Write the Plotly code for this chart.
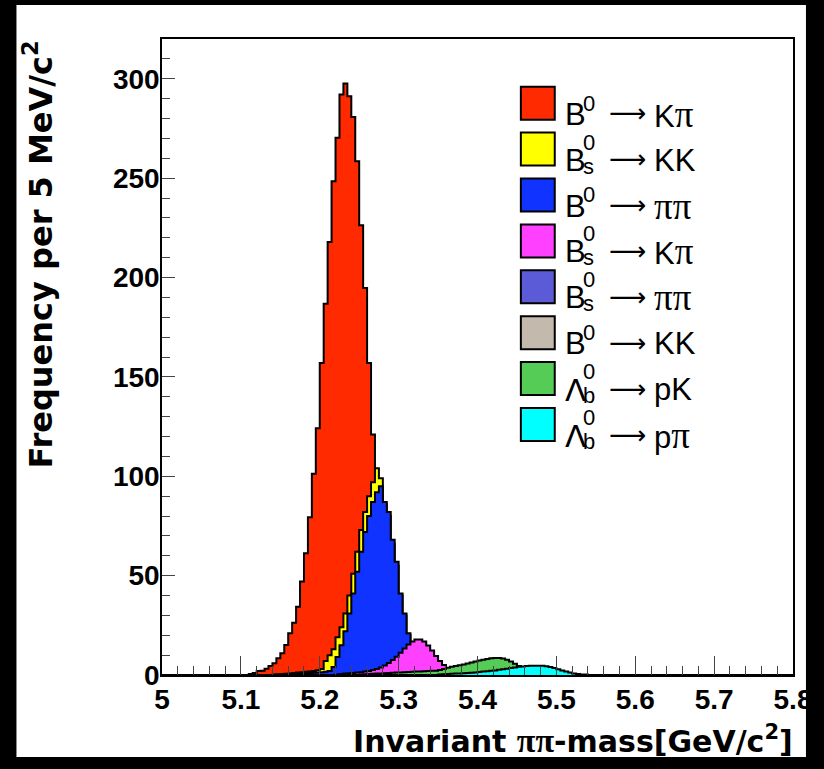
import numpy as np
import plotly.graph_objects as go

BIN_WIDTH = 0.005
X_MIN, X_MAX = 5.0, 5.8
Y_MAX = 320

# ---- histogram data (counts per 5 MeV bin) ----
kpi_start = 5.110   # B0 -> K pi
kpi_counts = [0.5, 1.0, 2.0, 2.2, 3.2, 4.5, 5.9, 8.4, 10.9, 15.1, 21.0, 26.3, 34.4, 47.0,
              61.3, 79.4, 101.2, 124.2, 157.0, 186.8, 217.9, 248.4, 270.3, 292.1, 297.6,
              291.2, 280.7, 258.5, 226.3, 194.7, 157.0, 121.0, 88, 60, 38, 23, 14, 8, 5,
              3, 2, 1]

bskk_start = 5.140  # Bs -> K K
bskk_counts = [0.3, 0.4, 0.5, 0.6, 0.8, 1.0, 1.2, 1.4, 1.6, 1.8, 2.0, 2.4, 3, 7, 10, 13,
               19, 24, 31, 40, 51, 62, 73, 82, 90, 97, 104, 99, 86, 80, 66, 55, 40, 30,
               20, 12, 7, 4, 2, 1]

bpipi_start = 5.150  # B0 -> pi pi
bpipi_counts = [0.3, 0.4, 0.5, 0.6, 0.7, 0.8, 0.9, 1.0, 1.1, 1.2, 1.4, 1.6, 2, 4, 9, 15,
                22, 31, 41, 52, 62, 72, 80, 87, 92, 95, 87, 82, 68, 57, 41, 31, 21, 14,
                9, 5, 3, 2, 1]

bskpi_start = 5.220  # Bs -> K pi
bskpi_counts = [0.3, 0.5, 0.7, 0.9, 1.0, 1.2, 1.4, 1.7, 2.0, 2.5, 3.0, 3.8, 4.8, 6.0, 7.5,
                9.2, 11.2, 13.3, 15.3, 16.8, 17.8, 17.9, 16.8, 14.8, 12.3, 9.6, 7.1, 5.0,
                3.3, 2.1, 1.3, 0.8, 0.5, 0.3]

bspipi_start = 5.300  # Bs -> pi pi
bspipi_counts = [0.2, 0.3, 0.4, 0.5, 0.6, 0.6, 0.6, 0.5, 0.4, 0.3, 0.2]

bkk_start = 5.275  # B0 -> K K
bkk_counts = [0.2, 0.3, 0.4, 0.4, 0.4, 0.3, 0.2]

lbpk_start = 5.250  # Lambda_b -> p K
lbpk_counts = [0.3, 0.4, 0.5, 0.6, 0.7, 0.8, 0.9, 1.0, 1.1, 1.2, 1.3, 1.4, 1.5, 1.6, 1.7,
               1.8, 1.9, 2.0, 2.1, 2.2, 2.5, 3.0, 3.6, 4.1, 4.5, 4.9, 5.3, 5.8, 6.3, 6.8,
               7.3, 7.7, 8.1, 8.4, 8.6, 8.6, 8.3, 7.7, 6.8, 5.7, 4.5, 3.4, 2.4, 1.6, 1.0,
               0.6, 0.3]

lbppi_start = 5.350  # Lambda_b -> p pi
lbppi_counts = [0.3, 0.4, 0.5, 0.6, 0.7, 0.8, 0.9, 1.0, 1.1, 1.3, 1.5, 1.7, 1.9, 2.1, 2.3,
                2.6, 2.9, 3.2, 3.5, 3.8, 4.1, 4.3, 4.5, 4.6, 4.7, 4.7, 4.6, 4.4, 4.0, 3.5,
                2.9, 2.3, 1.7, 1.2, 0.8, 0.5, 0.3, 0.2]

series_colors = ["#FF2A00", "#FFFF00", "#1133FF", "#FF40FF",
                 "#5B5BD8", "#C4B9AD", "#55CC55", "#00FFFF"]
series_starts = [kpi_start, bskk_start, bpipi_start, bskpi_start,
                 bspipi_start, bkk_start, lbpk_start, lbppi_start]
series_counts = [kpi_counts, bskk_counts, bpipi_counts, bskpi_counts,
                 bspipi_counts, bkk_counts, lbpk_counts, lbppi_counts]

legend_main = ["B", "B", "B", "B", "B", "B", "Λ", "Λ"]
legend_sub = ["", "s", "", "s", "s", "", "b", "b"]
legend_final = ["Kπ", "KK", "ππ", "Kπ", "ππ", "KK", "pK", "pπ"]

x_tick_vals = [5.0, 5.1, 5.2, 5.3, 5.4, 5.5, 5.6, 5.7, 5.8]
x_tick_text = ["5", "5.1", "5.2", "5.3", "5.4", "5.5", "5.6", "5.7", "5.8"]
y_tick_vals = [0, 50, 100, 150, 200, 250, 300]

# ---- geometry helpers (pixel -> paper) ----
W, H = 824, 769
L, R, T, B = 162, 795, 39, 675


def px2x(px):
    return (px - L) / (R - L)


def py2y(py):
    return (B - py) / (B - T)


fig = go.Figure()

for start, counts, color in zip(series_starts, series_counts, series_colors):
    n = len(counts)
    edges = start + BIN_WIDTH * np.arange(n + 1)
    xs = [X_MIN] + list(edges[:n]) + [edges[n], X_MAX]
    ys = [0] + list(counts) + [0, 0]
    fig.add_trace(go.Scatter(
        x=xs, y=ys, mode="lines", line_shape="hv",
        line=dict(color="black", width=2),
        fill="tozeroy", fillcolor=color,
        showlegend=False, hoverinfo="skip"))

shapes = [dict(type="rect", xref="paper", yref="paper",
               x0=px2x(16), x1=px2x(808), y0=py2y(757), y1=py2y(5),
               fillcolor="white", line=dict(width=0), layer="below")]
annotations = []

LEG_PI = ('<span style="font-family:\'Liberation Serif\';font-size:37px;'
          'font-weight:normal">π</span>')
TITLE_PI = ('<span style="font-family:\'Liberation Serif\';font-size:34px;'
            'font-weight:bold">π</span>')
LEG_FONT = "Liberation Sans"
row0, row_step = 86.7, 45.9
for i in range(len(legend_main)):
    top = row0 + row_step * i
    cy = top + 16.5
    shapes.append(dict(type="rect", xref="paper", yref="paper",
                       x0=px2x(522), x1=px2x(556), y0=py2y(top + 33), y1=py2y(top),
                       fillcolor=series_colors[i], line=dict(color="black", width=2),
                       layer="above"))
    main = legend_main[i]
    main_font = LEG_FONT if main == "B" else "DejaVu Sans"
    annotations.append(dict(x=px2x(564), y=py2y(cy + 11), xref="paper", yref="paper",
                            text=main, showarrow=False, xanchor="left", yanchor="middle",
                            font=dict(family=main_font, size=31, color="black")))
    sup_off = -7 if legend_sub[i] else 0
    annotations.append(dict(x=px2x(582), y=py2y(cy + sup_off), xref="paper", yref="paper",
                            text="0", showarrow=False, xanchor="left", yanchor="middle",
                            font=dict(family=LEG_FONT, size=22, color="black")))
    if legend_sub[i]:
        annotations.append(dict(x=px2x(582), y=py2y(cy + 17), xref="paper",
                                yref="paper", text=legend_sub[i], showarrow=False,
                                xanchor="left", yanchor="middle",
                                font=dict(family=LEG_FONT, size=22, color="black")))
    annotations.append(dict(x=px2x(629), y=py2y(cy + 10), xref="paper", yref="paper",
                            text="⟶", showarrow=False, xanchor="center", yanchor="middle",
                            font=dict(family="DejaVu Sans", size=26, color="black")))
    annotations.append(dict(x=px2x(654), y=py2y(cy + 11), xref="paper", yref="paper",
                            text=legend_final[i].replace("π", LEG_PI), showarrow=False,
                            xanchor="left", yanchor="middle",
                            font=dict(family=LEG_FONT, size=31, color="black")))

# axis titles
annotations.append(dict(x=px2x(38), y=py2y(254), xref="paper", yref="paper",
                        text="Frequency per 5 MeV/c<sup>2</sup>", textangle=-90,
                        showarrow=False, xanchor="center", yanchor="middle",
                        font=dict(family="DejaVu Sans", size=32, color="black",
                                  weight="bold")))
annotations.append(dict(x=px2x(797), y=py2y(739), xref="paper", yref="paper",
                        text="Invariant " + TITLE_PI + TITLE_PI
                             + "-mass[GeV/c<sup>2</sup>]",
                        showarrow=False, xanchor="right", yanchor="middle",
                        font=dict(family="DejaVu Sans", size=30, color="black",
                                  weight="bold")))

tick_font = dict(family="Liberation Sans", size=28, color="black", weight="bold")

fig.update_layout(
    width=W, height=H, autosize=False,
    margin=dict(l=L, r=W - R, t=T, b=H - B, pad=0),
    paper_bgcolor="black", plot_bgcolor="white",
    shapes=shapes, annotations=annotations,
    xaxis=dict(range=[X_MIN, X_MAX], tickmode="array", tickvals=x_tick_vals,
               ticktext=x_tick_text, ticks="inside", ticklen=19, tickwidth=1,
               tickcolor="#444", showgrid=False, zeroline=False, showline=True,
               linecolor="black", linewidth=2, mirror=True, tickfont=tick_font,
               ticklabelstandoff=-2,
               minor=dict(tick0=5.0, dtick=0.02, ticks="inside", ticklen=9,
                          tickcolor="#444", tickwidth=1, showgrid=False)),
    yaxis=dict(range=[0, Y_MAX], tickmode="array", tickvals=y_tick_vals,
               ticks="inside", ticklen=13, tickwidth=1, tickcolor="#444",
               showgrid=False, zeroline=False, showline=True, linecolor="black",
               linewidth=1.5, mirror=True, tickfont=tick_font,
               ticklabelstandoff=-5,
               minor=dict(tick0=0, dtick=10, ticks="inside", ticklen=8,
                          tickcolor="#444", tickwidth=1, showgrid=False)),
)

fig.write_html(
    "out.html",
    config={"displayModeBar": False},
    post_script="document.body.style.margin='0';"
                "document.body.style.background='black';",
)
